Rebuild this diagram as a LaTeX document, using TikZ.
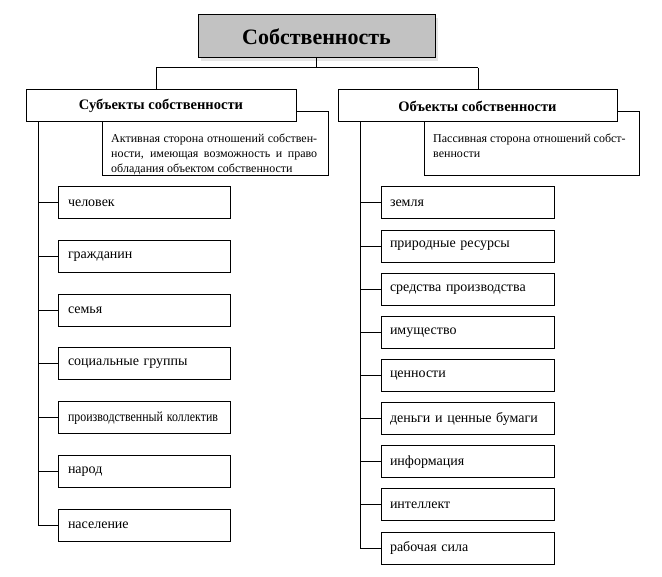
\documentclass[tikz,border=0pt]{standalone}
\usepackage{fontspec}
\usepackage{graphicx}
\setmainfont{Liberation Serif}
\usetikzlibrary{shadows}
\begin{document}
\begin{tikzpicture}[x=1pt,y=-1pt,
  every node/.style={inner sep=0pt},
  box/.style={draw=black, line width=1pt, fill=white, rectangle},
  conn/.style={draw=black, line width=1pt},
  head/.style={box, minimum height=32pt, font=\bfseries\fontsize{14.5}{17}\selectfont},
  desc/.style={draw=black, line width=1pt, fill=white, rectangle, minimum height=64pt},
  desctext/.style={anchor=north west, align=left, font=\fontsize{12}{15}\selectfont},
  item/.style={box, minimum height=32pt, align=left, font=\fontsize{14}{16}\selectfont},
  litem/.style={item, inner xsep=10pt, text width=152pt},
  ritem/.style={item, inner xsep=9pt, text width=155pt}
  ]
\useasboundingbox (0,0) rectangle (662,577);

% title
\node[box, fill=black!24, minimum width=237pt, minimum height=43pt,
      font=\bfseries\fontsize{22}{24}\selectfont,
      drop shadow={shadow xshift=3pt, shadow yshift=-3pt, fill=black!20, opacity=0.5}]
      (title) at (316.5,36.5) {Собственность};

% description boxes (behind the headers)
\node[desc, minimum width=226pt] (ld) at (215,144) {};
\node[desc, minimum width=215pt] (rd) at (531.5,144) {};
\node[desctext] (ldt) at (111,133.5) {\makebox[206pt][s]{Активная сторона отношений собствен-}\\\makebox[206pt][s]{ности, имеющая возможность и право}\\обладания объектом собственности};
\node[desctext] (rdt) at (433,133.5) {Пассивная сторона отношений собст-\\венности};

% headers
\node[head, minimum width=270pt] (lh) at (161,106) {Субъекты собственности};
\node[head, minimum width=279pt] (rh) at (477.5,106) {Объекты собственности};

% top connectors
\coordinate (jl) at (156,68);
\coordinate (jr) at (478,68);
\draw[conn] (title.south) -- (title.south |- jl);
\draw[conn] (jl) -- (jr);
\draw[conn] (jl) -- (jl |- lh.north);
\draw[conn] (jr) -- (jr |- rh.north);

% left items
\node[litem] (l1) at (144,203) {человек};
\node[litem] (l2) at (144,256.7) {гражданин};
\node[litem] (l3) at (144,310.3) {семья};
\node[litem] (l4) at (144,364) {социальные группы};
\node[litem] (l5) at (144,417.7) {\resizebox{150pt}{\height}{производственный коллектив}};
\node[litem] (l6) at (144,471.3) {народ};
\node[litem] (l7) at (144,525) {население};

% right items
\node[ritem] (r1) at (467.5,203) {земля};
\node[ritem] (r2) at (467.5,246.1) {природные ресурсы};
\node[ritem] (r3) at (467.5,289.25) {средства производства};
\node[ritem] (r4) at (467.5,332.4) {имущество};
\node[ritem] (r5) at (467.5,375.5) {ценности};
\node[ritem] (r6) at (467.5,418.6) {деньги и ценные бумаги};
\node[ritem] (r7) at (467.5,461.75) {информация};
\node[ritem] (r8) at (467.5,504.9) {интеллект};
\node[ritem] (r9) at (467.5,548) {рабочая сила};

% trunks
\coordinate (ltop) at (38,122);
\coordinate (rtop) at (360,122);
\draw[conn] (ltop) -- (ltop |- l7.west);
\draw[conn] (rtop) -- (rtop |- r9.west);
\foreach \n in {l1,l2,l3,l4,l5,l6,l7}
  \draw[conn] (ltop |- \n.west) -- (\n.west);
\foreach \n in {r1,r2,r3,r4,r5,r6,r7,r8,r9}
  \draw[conn] (rtop |- \n.west) -- (\n.west);
\end{tikzpicture}
\end{document}
